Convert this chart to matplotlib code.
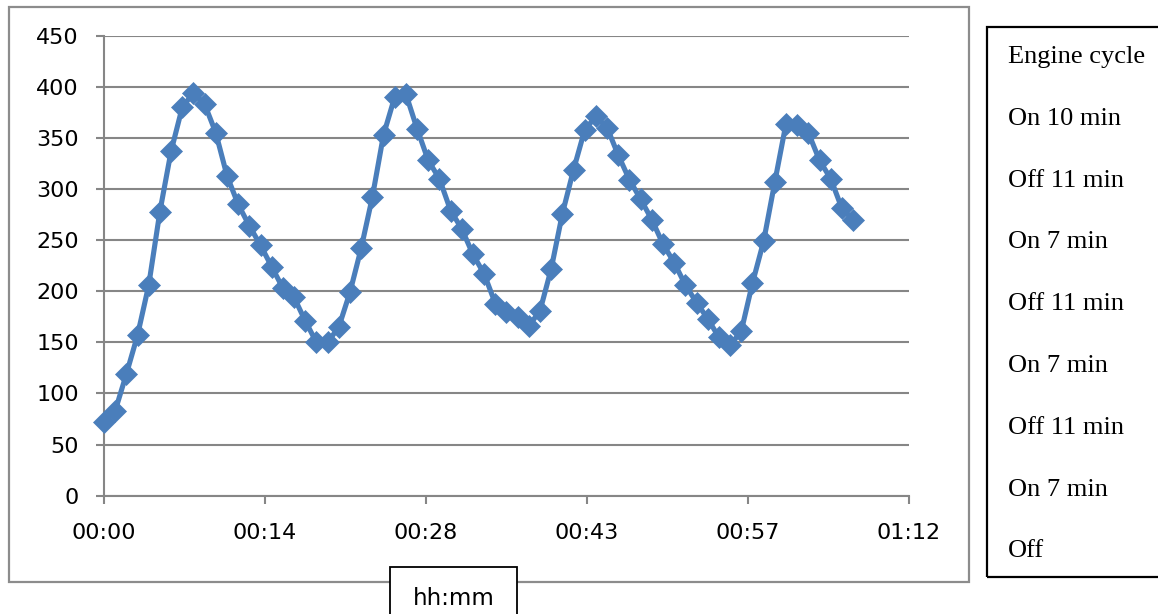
import numpy as np
import matplotlib
matplotlib.use('Agg')
import matplotlib.pyplot as plt
from matplotlib.patches import Rectangle

# temperature readings, one per minute from start of run
temperature = [72, 83, 119, 157, 206, 278, 337, 380, 394, 383,
               355, 313, 285, 264, 245, 224, 203, 194, 171, 150,
               150, 165, 199, 242, 292, 353, 390, 393, 359, 328,
               310, 279, 261, 236, 217, 188, 180, 175, 166, 181,
               222, 276, 319, 358, 371, 360, 333, 309, 290, 270,
               246, 228, 206, 189, 173, 155, 147, 161, 208, 249,
               307, 364, 363, 355, 328, 310, 281, 270]
minutes = np.arange(len(temperature))  # sampled every minute

# Excel-style time axis: major unit 0.01 day = 14.4 min
x_ticks = [0, 14.4, 28.8, 43.2, 57.6, 72]
x_labels = ['00:00', '00:14', '00:28', '00:43', '00:57', '01:12']
y_ticks = list(range(0, 451, 50))

cycle_notes = ['Engine cycle', 'On 10 min', 'Off 11 min', 'On 7 min',
               'Off 11 min', 'On 7 min', 'Off 11 min', 'On 7 min', 'Off']

W, H = 1158, 614
plt.rcParams['font.family'] = ['DejaVu Sans']
fig = plt.figure(figsize=(W / 100, H / 100), dpi=100)

def fx(px):
    return px / W

def fy(py):
    return 1 - py / H

grey = '#868686'
blue = '#4a7ebb'

ax = fig.add_axes([fx(104), fy(495.7), fx(909) - fx(104), fy(35.7) - fy(495.7)])
ax.plot(minutes, temperature, color=blue, lw=3.7, marker='D', ms=11,
        mfc=blue, mec=blue, mew=0.5, zorder=3, clip_on=False)

ax.set_xlim(0, 72)
ax.set_ylim(0, 450)
ax.set_xticks(x_ticks)
ax.set_xticklabels(x_labels)
ax.set_yticks(y_ticks)
ax.grid(axis='y', color=grey, lw=1.5)
ax.set_axisbelow(True)
for side in ['top', 'right']:
    ax.spines[side].set_visible(False)
for side in ['left', 'bottom']:
    ax.spines[side].set_color(grey)
    ax.spines[side].set_linewidth(1.5)
ax.tick_params(axis='both', direction='out', length=6, width=1.5, color=grey,
               labelsize=16, labelcolor='black')
ax.tick_params(axis='y', pad=12)
ax.tick_params(axis='x', pad=14)

# chart area border
fig.add_artist(Rectangle((fx(9), fy(582)), fx(969) - fx(9), fy(7) - fy(582),
                         transform=fig.transFigure, fill=False,
                         edgecolor='#8c8c8c', lw=1.6, zorder=1))

# axis title box
fig.add_artist(Rectangle((fx(390), fy(620)), fx(517) - fx(390), fy(567) - fy(620),
                         transform=fig.transFigure, facecolor='white',
                         edgecolor='black', lw=1.3, zorder=5))
fig.text(fx(453.5), fy(605), 'hh:mm', ha='center', va='baseline',
         fontsize=16.5, zorder=6)

# engine cycle notes
fig.add_artist(Rectangle((fx(987), fy(577)), fx(1165) - fx(987), fy(27) - fy(577),
                         transform=fig.transFigure, fill=False,
                         edgecolor='black', lw=1.6, zorder=5))
for i, note in enumerate(cycle_notes):
    fig.text(fx(1008), fy(63 + 61.8 * i), note, ha='left', va='baseline',
             fontsize=19, family=['Liberation Serif', 'DejaVu Serif'])

fig.savefig('out.png', dpi=100)
